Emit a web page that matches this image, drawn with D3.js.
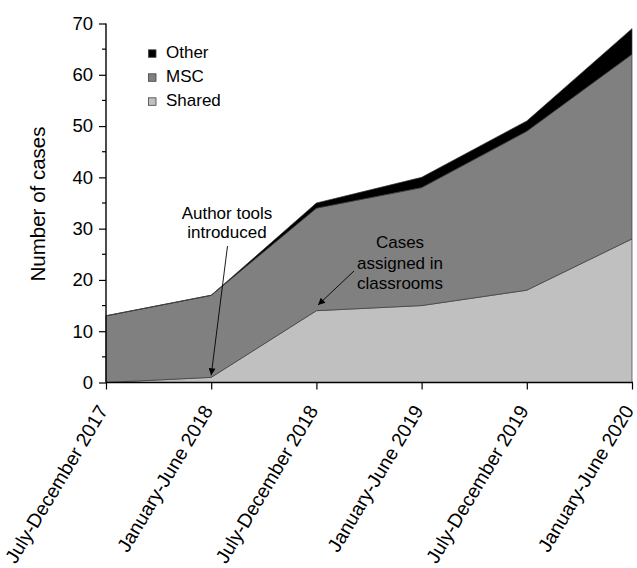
<!DOCTYPE html>
<html>
<head>
<meta charset="utf-8">
<script src="https://cdn.jsdelivr.net/npm/d3@7/dist/d3.min.js"></script>
<style>
  html, body { margin: 0; padding: 0; background: #fff; }
  svg { display: block; font-family: "Liberation Sans", Arial, sans-serif; }
</style>
</head>
<body>
<svg id="chart" width="637" height="568"></svg>
<script>
// Half-year periods
const periods = [
  "July-December 2017", "January-June 2018", "July-December 2018",
  "January-June 2019", "July-December 2019", "January-June 2020"
];
// Cases per period, by source
const shared = [0, 1, 14, 15, 18, 28];
const msc    = [13, 16, 20, 23, 31, 36];
const other  = [0, 0, 1, 2, 2, 5];

const seriesKeys = ["Shared", "MSC", "Other"];
const legendKeys = ["Other", "MSC", "Shared"];
const yTicks = [0, 10, 20, 30, 40, 50, 60, 70];
const yMinorTicks = [5, 15, 25, 35, 45, 55, 65];

const colors = { Shared: "#c0c0c0", MSC: "#808080", Other: "#000000" };

const rows = periods.map((p, i) => ({ period: p, Shared: shared[i], MSC: msc[i], Other: other[i] }));

const svg = d3.select("#chart");
const x0 = 106, x1 = 632, yTop = 23.5, yBot = 382.5;

const x = d3.scalePoint().domain(periods).range([x0, x1]);
const y = d3.scaleLinear().domain([0, 70]).range([yBot, yTop]);

const stack = d3.stack().keys(seriesKeys);
const layers = stack(rows);

const area = d3.area()
  .x(d => x(d.data.period))
  .y0(d => y(d[0]))
  .y1(d => y(d[1]));

svg.append("g").selectAll("path")
  .data(layers)
  .join("path")
  .attr("d", area)
  .attr("fill", d => colors[d.key])
  .attr("stroke", "#3a3a3a")
  .attr("stroke-width", 0.7)
  .attr("stroke-linejoin", "round");

// Y axis
const yAxis = svg.append("g").attr("transform", `translate(${x0},0)`);
yAxis.call(d3.axisLeft(y).tickValues(yTicks).tickSize(7).tickPadding(6).tickFormat(d3.format("d")));
yAxis.append("g").selectAll("line")
  .data(yMinorTicks)
  .join("line")
  .attr("x1", -4).attr("x2", 0)
  .attr("y1", d => y(d)).attr("y2", d => y(d))
  .attr("stroke", "#000").attr("stroke-width", 1.2);
yAxis.select(".domain").attr("d", `M0,${yTop}V${yBot}`).attr("stroke-width", 1.4);
yAxis.selectAll(".tick line").attr("stroke-width", 1.2);
yAxis.selectAll(".tick text")
  .attr("font-size", 18.5)
  .attr("font-family", "Liberation Sans, Arial, sans-serif")
  .attr("fill", "#000");

// X axis
const xAxis = svg.append("g").attr("transform", `translate(0,${yBot})`);
xAxis.call(d3.axisBottom(x).tickSize(7).tickSizeOuter(0));
xAxis.select(".domain").attr("d", `M${x0},0H${x1 + 1}`).attr("stroke-width", 1.4);
xAxis.selectAll(".tick line").attr("stroke-width", 1.2);
xAxis.selectAll(".tick text")
  .attr("font-size", 19.5)
  .attr("font-family", "Liberation Sans, Arial, sans-serif")
  .attr("fill", "#000")
  .attr("text-anchor", "end")
  .attr("dy", null)
  .attr("y", 0)
  .attr("transform", "translate(2,28) rotate(-59)");

// Y axis title
svg.append("text")
  .attr("transform", "translate(45,204) rotate(-90)")
  .attr("text-anchor", "middle")
  .attr("font-size", 20.5)
  .attr("fill", "#000")
  .text("Number of cases");

// Legend
const legend = svg.append("g");
legendKeys.forEach((k, i) => {
  const base = 58.3 + i * 24;
  legend.append("rect")
    .attr("x", 148.5).attr("y", base - 8.5)
    .attr("width", 7.5).attr("height", 7.5)
    .attr("fill", colors[k])
    .attr("stroke", "#404040").attr("stroke-width", 0.8);
  legend.append("text")
    .attr("x", 166).attr("y", base)
    .attr("font-size", 17)
    .attr("fill", "#000")
    .text(k);
});

// Annotations
const defs = svg.append("defs");
defs.append("marker")
  .attr("id", "arrow")
  .attr("viewBox", "0 0 10 10")
  .attr("refX", 10).attr("refY", 5)
  .attr("markerWidth", 9).attr("markerHeight", 7)
  .attr("markerUnits", "userSpaceOnUse")
  .attr("orient", "auto")
  .append("path").attr("d", "M0,0L10,5L0,10Z").attr("fill", "#000");

const notes = svg.append("g").attr("font-size", 17).attr("fill", "#000").attr("text-anchor", "middle");
notes.append("text").attr("x", 227).attr("y", 218.5).text("Author tools");
notes.append("text").attr("x", 227).attr("y", 238).text("introduced");
notes.append("text").attr("x", 400).attr("y", 248).text("Cases");
notes.append("text").attr("x", 400).attr("y", 268.5).text("assigned in");
notes.append("text").attr("x", 400).attr("y", 289).text("classrooms");

svg.append("line")
  .attr("x1", 227.5).attr("y1", 246)
  .attr("x2", x(periods[1])).attr("y2", y(shared[1]) - 2)
  .attr("stroke", "#000").attr("stroke-width", 0.9)
  .attr("marker-end", "url(#arrow)");
svg.append("line")
  .attr("x1", 354).attr("y1", 271)
  .attr("x2", 318).attr("y2", 305)
  .attr("stroke", "#000").attr("stroke-width", 0.9)
  .attr("marker-end", "url(#arrow)");
</script>
</body>
</html>
